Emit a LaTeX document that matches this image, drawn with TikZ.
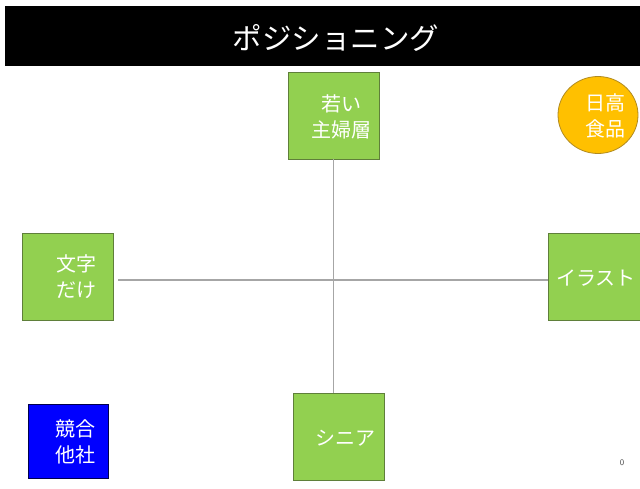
\documentclass[tikz,border=0pt]{standalone}
\usepackage{fontspec}
\usetikzlibrary{shapes.geometric}
\newfontfamily\jp{Noto Sans CJK JP}
\definecolor{boxgreen}{HTML}{92D050}
\definecolor{greenedge}{HTML}{5F7F3A}
\definecolor{gold}{HTML}{FFC000}
\definecolor{goldedge}{HTML}{B08A20}
\definecolor{axisgray}{HTML}{A6A6A6}
\tikzset{
  gbox/.style={draw=greenedge, line width=0.8pt, fill=boxgreen, minimum width=91pt, minimum height=87pt, inner sep=0pt},
  lbl/.style={text=white, font=\jp\fontsize{20}{26}\selectfont, align=center, inner sep=0pt},
  axis/.style={draw=axisgray, line width=1.6pt},
}
\begin{document}
\begin{tikzpicture}[x=1pt,y=-1pt]
\useasboundingbox (0,0) rectangle (640,489);
\clip (0,0) rectangle (640,489);
\fill[white] (0,0) rectangle (640,489);
% title bar
\node[fill=black, draw=none, minimum width=650pt, minimum height=60pt, anchor=north west, inner sep=0pt] (bar) at (5,6) {};
\node[text=white, font=\jp\fontsize{29.5}{32}\selectfont, inner sep=0pt] (title) at (336,38) {ポジショニング};
% boxes
\node[gbox] (top) at (333.5,115.5) {};
\node[gbox] (left) at (68,276.5) {};
\node[gbox, minimum width=100pt, anchor=west] (right) at (548,276.5) {};
\node[gbox] (bottom) at (338.5,437) {};
% axes
\draw[axis] (top.south) -- (top.south |- bottom.north);
\draw[axis] (118,280) coordinate (hl) -- (right.west |- hl);
% labels
\node[lbl] (ttop) at (341,117) {若い\\主婦層};
\node[lbl] (tleft) at (76,277) {文字\\だけ};
\node[lbl, anchor=west] (tright) at (556,278) {イラスト};
\node[lbl] (tbottom) at (345,438) {シニア};
% circle
\node[ellipse, draw=goldedge, line width=0.8pt, fill=gold, minimum width=80pt, minimum height=77pt, inner sep=0pt] (hidaka) at (598,115) {};
\node[lbl] (thidaka) at (605,116) {日高\\食品};
% competitor
\node[draw=black!70!blue, line width=0.8pt, fill=blue, minimum width=80pt, minimum height=74pt, inner sep=0pt] (comp) at (68,441) {};
\node[lbl] (tcomp) at (75,442) {競合\\他社};
% page number
\node[text=black!70, font=\sffamily\fontsize{8.5}{9}\selectfont, inner sep=0pt] (pg) at (622,463) {0};
\end{tikzpicture}
\end{document}
